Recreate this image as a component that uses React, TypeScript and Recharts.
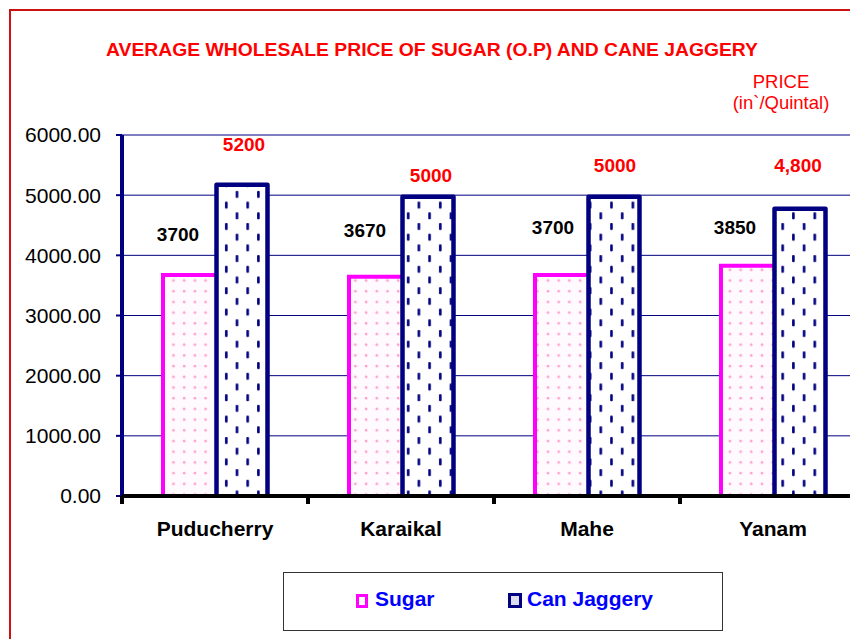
import { BarChart, Bar, XAxis, YAxis, CartesianGrid, LabelList } from 'recharts';

const regions = ['Puducherry', 'Karaikal', 'Mahe', 'Yanam'];
const sugarPrice = [3700, 3670, 3700, 3850];
const jaggeryPrice = [5200, 5000, 5000, 4800];
const sugarLabels = ['3700', '3670', '3700', '3850'];
const jaggeryLabels = ['5200', '5000', '5000', '4,800'];
const yTicks = [0, 1000, 2000, 3000, 4000, 5000, 6000];
const seriesNames = ['Sugar', 'Can Jaggery'];
const title = 'AVERAGE WHOLESALE PRICE OF SUGAR (O.P) AND CANE JAGGERY';
const unitLines = ['PRICE', '(in`/Quintal)'];

// labels were hand-placed in the original, so each one gets its own nudge
const sugarLabelDy = [-32, -38, -39, -30];
const jagLabelDy = [-32, -13, -23, -35];
const sugarLabelDx = [-10, -9, -7, -11];
const jagLabelDx = [2, 3, 1, -2];

const data = regions.map((r, i) => ({
  region: r,
  sugar: sugarPrice[i],
  jaggery: jaggeryPrice[i],
  sugarLabel: sugarLabels[i],
  jaggeryLabel: jaggeryLabels[i],
}));

const FONT = '"Liberation Sans", Arial, sans-serif';
const NAVY = '#000080';
const MAGENTA = '#ff00ff';

const CHART_W = 900;
const CHART_H = 631;
const Y_W = 114;
const PLOT_W = 744;
const BAND = PLOT_W / regions.length;

const SugarShape = (p: any) => {
  const { x, y, width, height } = p;
  if (!height) return null;
  return (
    <g>
      <rect x={x} y={y} width={width} height={height} fill="url(#sugarPat)" />
      <path d={`M${x + 2},${y + height} V${y + 1.5} H${x + width}`} stroke={MAGENTA} strokeWidth={4} fill="none" />
    </g>
  );
};

const JagShape = (p: any) => {
  const { x, y, width, height } = p;
  if (!height) return null;
  return (
    <g>
      <rect x={x} y={y} width={width} height={height} fill="url(#jagPat)" />
      <path
        d={`M${x + 1.5},${y + height} V${y + 1.5} H${x + width - 1.5} V${y + height}`}
        stroke={NAVY}
        strokeWidth={4.5}
        fill="none"
        strokeLinejoin="round"
      />
    </g>
  );
};

const XTick = (p: any) => {
  const { x, y, payload } = p;
  const bx = x - BAND / 2;
  return (
    <g>
      <line x1={bx} x2={bx} y1={y} y2={y + 8} stroke="#000" strokeWidth={4} />
      <text x={x} y={y + 40} textAnchor="middle" fontFamily={FONT} fontSize={21} fontWeight="bold" fill="#000">
        {payload.value}
      </text>
    </g>
  );
};

const sugarLabel = (p: any) => {
  const i = p.index ?? 0;
  return (
    <text x={p.x + p.width / 2 + sugarLabelDx[i]} y={p.y + sugarLabelDy[i]} textAnchor="middle" fontFamily={FONT} fontSize={19} fontWeight="bold" fill="#000">
      {p.value}
    </text>
  );
};

const jagLabel = (p: any) => {
  const i = p.index ?? 0;
  return (
    <text x={p.x + p.width / 2 + jagLabelDx[i]} y={p.y + jagLabelDy[i]} textAnchor="middle" fontFamily={FONT} fontSize={19} fontWeight="bold" fill="#ff0000">
      {p.value}
    </text>
  );
};

export default function App() {
  return (
    <div style={{ position: 'relative', width: 850, height: 631, overflow: 'hidden', background: '#fff' }}>
      <div style={{ position: 'absolute', left: 1, top: 1, width: 1000, height: 1000, border: '2px solid #cc1111' }} />
      <svg width={850} height={631} style={{ position: 'absolute', left: 0, top: 0 }}>
        <defs>
          <pattern id="sugarPat" width={10.7} height={10.7} patternUnits="userSpaceOnUse">
            <rect width={10.7} height={10.7} fill="#fffafd" />
            <circle cx={5} cy={5} r={1.3} fill="#ff9fd0" />
          </pattern>
          <pattern id="jagPat" width={21.4} height={21.4} patternUnits="userSpaceOnUse">
            <rect width={21.4} height={21.4} fill="#fff" />
            <rect x={3} y={1} width={2.6} height={7} rx={1} fill={NAVY} />
            <rect x={13.7} y={11.7} width={2.6} height={7} rx={1} fill={NAVY} />
          </pattern>
        </defs>
        <text x={98} y={48} fontFamily={FONT} fontSize={18} fontWeight="bold" fill="#ff0000" textLength={652} lengthAdjust="spacingAndGlyphs">
          {title}
        </text>
        {unitLines.map((t, i) => (
          <text key={t} x={773} y={80 + i * 21} textAnchor="middle" fontFamily={FONT} fontSize={18.5} fill="#ff0000">
            {t}
          </text>
        ))}
      </svg>
      <div style={{ position: 'absolute', left: 0, top: 0 }}>
        <BarChart
          width={CHART_W}
          height={CHART_H}
          data={data}
          margin={{ top: 127, right: CHART_W - Y_W - PLOT_W, left: 0, bottom: 93 }}
          barCategoryGap={39}
          barGap={0}
        >
          <CartesianGrid vertical={false} stroke={NAVY} strokeWidth={1} />
          <YAxis
            type="number"
            domain={[0, 6000]}
            ticks={yTicks}
            interval={0}
            width={Y_W}
            tickFormatter={(v: number) => v.toFixed(2)}
            axisLine={{ stroke: NAVY, strokeWidth: 4 }}
            tickLine={{ stroke: NAVY, strokeWidth: 2 }}
            tickSize={6}
            tickMargin={15}
            tick={{ fill: '#000', fontSize: 21, fontFamily: FONT }}
          />
          <Bar dataKey="sugar" name={seriesNames[0]} shape={SugarShape} isAnimationActive={false}>
            <LabelList dataKey="sugarLabel" content={sugarLabel} />
          </Bar>
          <Bar dataKey="jaggery" name={seriesNames[1]} shape={JagShape} isAnimationActive={false}>
            <LabelList dataKey="jaggeryLabel" content={jagLabel} />
          </Bar>
          <XAxis
            dataKey="region"
            height={50}
            interval={0}
            axisLine={{ stroke: '#000', strokeWidth: 4 }}
            tickLine={false}
            tickSize={0}
            tickMargin={0}
            tick={<XTick />}
          />
        </BarChart>
      </div>
      <div style={{ position: 'absolute', left: 275, top: 564, width: 438, height: 57, border: '1px solid #333', background: '#fff' }}>
        <div style={{ position: 'absolute', left: 72, top: 21, width: 6, height: 8, border: `3px solid ${MAGENTA}`, background: '#fff' }} />
        <div style={{ position: 'absolute', left: 91, top: 13, fontFamily: FONT, fontSize: 21, fontWeight: 'bold', color: '#0000ff', lineHeight: '26px' }}>
          {seriesNames[0]}
        </div>
        <div style={{ position: 'absolute', left: 224, top: 20, width: 8, height: 9, border: `3px solid ${NAVY}`, background: '#dde' }} />
        <div style={{ position: 'absolute', left: 243, top: 13, fontFamily: FONT, fontSize: 21, fontWeight: 'bold', color: '#0000ff', lineHeight: '26px' }}>
          {seriesNames[1]}
        </div>
      </div>
    </div>
  );
}
